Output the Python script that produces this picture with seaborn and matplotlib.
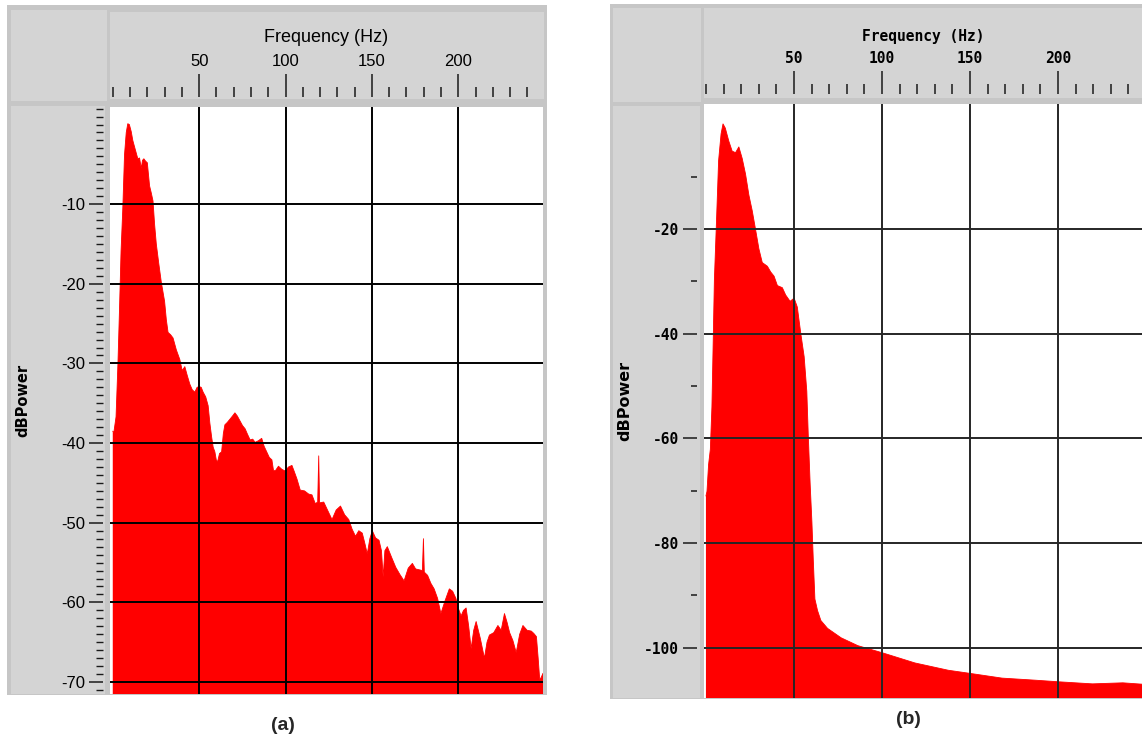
import matplotlib
matplotlib.use("Agg")
import matplotlib.pyplot as plt
import seaborn as sns
from matplotlib.patches import Rectangle
from matplotlib.ticker import MultipleLocator

# ---------------- data ----------------
freq_a = [0, 0.6, 1.9, 3.0, 3.9, 4.8, 5.8, 6.8, 7.8, 8.7, 9.6, 10.7, 11.6, 12.6, 13.5,
          14.5, 15.5, 16.5, 17.2, 18.0, 19.0, 20.0, 21.3, 22.3, 23.3, 24.2, 25.2, 26.6,
          28.1, 30.0, 31.0, 32.0, 33.5, 34.9, 36.8, 38.8, 40.2, 41.7, 43.1, 44.6, 46.0,
          47.5, 48.8, 50.0, 51.2, 52.3, 53.8, 55.2, 56.2, 57.2, 58.1, 59.1, 60.0, 60.7,
          61.8, 63.0, 64.0, 64.9, 66.3, 67.8, 69.3, 70.7, 72.1, 73.6, 75.1, 76.6, 78.0,
          79.5, 81.0, 82.4, 84.3, 86.2, 87.6, 89.1, 90.6, 92.1, 93.0, 94.0, 95.9, 97.9,
          99.8, 101.7, 103.7, 105.1, 106.6, 108.5, 111.0, 113.4, 115.3, 117.2, 118.6,
          119.2, 119.7, 122.1, 124.5, 126.9, 129.3, 131.8, 134.2, 136.6, 138.5, 140.5,
          142.4, 144.4, 145.8, 147.3, 148.8, 150.2, 152.1, 154.1, 155.5, 156.5, 157.5,
          158.9, 161.3, 163.8, 166.2, 168.6, 171.0, 173.4, 175.3, 177.3, 179.2, 179.8,
          180.3, 182.2, 184.1, 186.0, 188.0, 189.9, 192.3, 194.8, 196.7, 198.6, 200.1,
          201.6, 203.0, 204.5, 206.0, 207.4, 208.9, 210.3, 212.7, 215.1, 216.6, 218.0,
          220.5, 222.9, 224.8, 226.7, 228.2, 229.7, 231.6, 233.5, 235.5, 237.4, 239.8,
          242.2, 243.7, 245.2, 246.2, 247.1, 248.0, 249.0]
power_a = [-38.5, -38.7, -36.7, -30.0, -23.2, -15.9, -10.6, -3.8, -1.0, 0.1, 0.0, -0.9,
           -2.0, -2.8, -3.5, -4.3, -4.2, -5.5, -4.5, -4.3, -4.6, -4.8, -7.7, -8.6, -9.6,
           -12.5, -15.0, -17.4, -19.8, -22.2, -24.5, -26.1, -26.4, -26.8, -28.3, -29.5,
           -30.9, -30.4, -31.5, -32.6, -33.3, -33.6, -33.0, -32.9, -33.0, -33.6, -34.2,
           -35.3, -37.5, -39.2, -40.5, -41.1, -42.2, -42.3, -41.3, -41.1, -38.8, -37.7,
           -37.4, -37.0, -36.6, -36.2, -36.6, -37.2, -37.8, -38.2, -38.9, -39.6, -39.5,
           -39.9, -39.7, -39.4, -40.4, -41.1, -41.8, -42.1, -43.4, -43.5, -42.9, -43.3,
           -43.5, -43.0, -42.8, -43.6, -44.5, -45.9, -46.0, -46.4, -46.5, -47.6, -47.4,
           -41.6, -47.5, -47.4, -48.5, -49.6, -48.4, -47.9, -49.0, -49.6, -50.8, -51.7,
           -51.0, -51.3, -52.5, -53.9, -52.0, -51.0, -51.9, -52.2, -53.5, -56.8, -53.5,
           -53.0, -54.3, -55.6, -56.5, -57.3, -55.7, -55.1, -55.8, -55.9, -56.0, -52.0,
           -56.2, -56.6, -57.6, -58.3, -59.5, -61.4, -59.8, -58.3, -58.6, -59.5, -60.8,
           -61.7, -61.0, -60.7, -63.0, -65.8, -63.5, -62.4, -64.5, -67.0, -65.0, -64.1,
           -63.8, -62.9, -63.5, -61.4, -62.5, -63.8, -64.8, -66.3, -64.0, -62.9, -63.5,
           -63.6, -63.9, -64.3, -67.0, -69.7, -69.4, -68.9]

freq_b = [0, 0.6, 1.5, 2.5, 3.4, 4.0, 4.8, 5.9, 7.2, 8.6, 9.7, 11.0, 13.0, 14.9, 16.8,
          18.7, 20.6, 22.5, 24.4, 26.3, 28.2, 30.1, 32.0, 34.9, 36.8, 38.7, 40.6, 43.4,
          45.3, 47.8, 50.1, 51.9, 53.9, 55.8, 57.3, 58.1, 59.2, 60.2, 61.0, 61.9, 63.4,
          65.3, 69.1, 76.8, 86.3, 100.6, 118.7, 137.7, 150.1, 168.2, 187.2, 200.2, 219.6,
          236.8, 249.3]
power_b = [-71.0, -70.1, -65.0, -62.1, -54.0, -43.7, -29.7, -19.4, -6.9, -1.8, 0.1, -0.7,
           -3.2, -5.1, -5.4, -4.3, -6.5, -9.5, -13.5, -16.5, -20.1, -23.8, -26.4, -27.1,
           -28.2, -29.0, -30.8, -31.2, -32.6, -33.8, -33.2, -34.9, -40.0, -44.4, -51.0,
           -59.1, -68.7, -76.0, -83.4, -90.7, -92.9, -94.8, -96.3, -98.1, -99.6, -101.0,
           -102.9, -104.3, -104.9, -105.8, -106.2, -106.5, -106.9, -106.7, -107.0]

x_ticks = [50, 100, 150, 200]
x_tick_labels = ["50", "100", "150", "200"]
y_ticks_a = [-10, -20, -30, -40, -50, -60, -70]
y_ticks_b = [-20, -40, -60, -80, -100]
y_minor_b = [-10, -30, -50, -70, -90]
x_title = "Frequency (Hz)"
y_title = "dBPower"
panel_labels = ["(a)", "(b)"]

# ---------------- style ----------------
sns.set_theme(style="white")
plt.rcParams["font.family"] = ["DejaVu Sans"]
SANS = "Liberation Sans"
MONO = "DejaVu Sans Mono"

W, H = 1142, 746
fig = plt.figure(figsize=(W / 100, H / 100), dpi=100)
fig.patch.set_facecolor("white")


def box(x0, y0, x1, y1):
    return [x0 / W, 1 - y1 / H, (x1 - x0) / W, (y1 - y0) / H]


def rect(x0, y0, x1, y1, fc, z=-5):
    fig.add_artist(Rectangle((x0 / W, 1 - y1 / H), (x1 - x0) / W, (y1 - y0) / H,
                             transform=fig.transFigure, facecolor=fc, edgecolor="none",
                             linewidth=0, zorder=z))


FRAME = "#c6c6c6"
PANEL = "#d4d4d4"
RED = "#ff0000"

# gray frames panel (a)
rect(7, 5, 547, 695, FRAME)
rect(11, 10, 107, 101, PANEL)
rect(110, 12, 544, 99, PANEL)
rect(11, 106, 105, 694, PANEL)
# gray frames panel (b)
rect(610, 4, 1142, 699, FRAME)
rect(613, 8, 701, 102, PANEL)
rect(704, 8, 1142, 98, PANEL)
rect(613, 106, 700, 698, PANEL)


def draw_panel(pos, freq, power, xlim, ylim, yticks, yminor, font, tick_size, ytick_size,
               title_size, weight, title_y, ylab_x, ylab_size, ylab_font, grid_color):
    ax = fig.add_axes(box(*pos))
    ax.set_facecolor("white")
    sns.lineplot(x=freq, y=power, ax=ax, color=RED, linewidth=0.6,
                 estimator=None, sort=False, legend=False)
    ax.fill_between(freq, power, ylim[0] - 50, color=RED, linewidth=0)
    ax.set_xlim(*xlim)
    ax.set_ylim(*ylim)

    ax.set_xticks(x_ticks)
    ax.set_xticklabels(x_tick_labels)
    ax.xaxis.set_minor_locator(MultipleLocator(10))
    ax.set_yticks(yticks)
    ax.set_yticklabels([str(v) for v in yticks])
    if yminor is None:
        ax.yaxis.set_minor_locator(MultipleLocator(1))
    else:
        ax.set_yticks(yminor, minor=True)

    ax.xaxis.tick_top()
    ax.spines["top"].set_position(("outward", 7.2))
    ax.spines["left"].set_position(("outward", 5))
    for s in ax.spines.values():
        s.set_visible(False)

    ax.tick_params(axis="x", which="major", direction="out", length=16.5, width=1.1,
                   color="#1a1a1a", pad=4, labelsize=tick_size, top=True, bottom=False,
                   labeltop=True, labelbottom=False, labelfontfamily=font)
    ax.tick_params(axis="x", which="minor", direction="out", length=7.2, width=1.1,
                   color="#1a1a1a", top=True, bottom=False)
    ax.tick_params(axis="y", which="major", direction="out", length=10, width=1.1,
                   color="#1a1a1a", pad=3, labelsize=ytick_size, left=True,
                   labelfontfamily=font)
    ax.tick_params(axis="y", which="minor", direction="out",
                   length=5 if yminor is None else 4.3, width=1.0 if yminor is None else 1.1,
                   color="#1a1a1a", left=True)
    for lab in ax.get_xticklabels() + ax.get_yticklabels():
        lab.set_fontweight(weight)
        lab.set_color("black")

    ax.grid(True, which="major", color=grid_color, linewidth=1.4)
    ax.set_axisbelow(False)

    ax.xaxis.set_label_position("top")
    ax.set_xlabel(x_title, fontsize=title_size, family=font, fontweight=weight,
                  color="black")
    ax.xaxis.set_label_coords(0.5, title_y)
    ax.set_ylabel(y_title, fontsize=ylab_size, family=ylab_font, fontweight="bold",
                  color="black")
    ax.yaxis.set_label_coords(ylab_x, 0.5)
    return ax


ax_a = draw_panel((110, 107, 543, 694), freq_a, power_a, (-1.6, 249.0), (-71.5, 2.2),
                  y_ticks_a, None, font=SANS, tick_size=12, ytick_size=12,
                  title_size=13, weight="normal", ylab_x=(30.7 - 110) / 433,
                  ylab_size=10.5, ylab_font="DejaVu Sans", grid_color="black",
                  title_y=1 + (107 - 42) / 587)

ax_b = draw_panel((704, 104, 1142, 698), freq_b, power_b, (-1.1, 247.7), (-109.6, 3.9),
                  y_ticks_b, y_minor_b, font=MONO, tick_size=10.5, ytick_size=10.5,
                  title_size=10.5, weight="bold", ylab_x=(632 - 704) / 438,
                  ylab_size=11.5, ylab_font="DejaVu Sans", grid_color="#262626",
                  title_y=1 + (104 - 41) / 594)

fig.text(283 / W, 1 - 725 / H, panel_labels[0], ha="center", va="center",
         fontsize=14, fontweight="bold", family=SANS)
fig.text(908 / W, 1 - 720 / H, panel_labels[1], ha="center", va="center",
         fontsize=14, fontweight="bold", family=SANS)

fig.savefig("out.png", dpi=100, facecolor="white")
